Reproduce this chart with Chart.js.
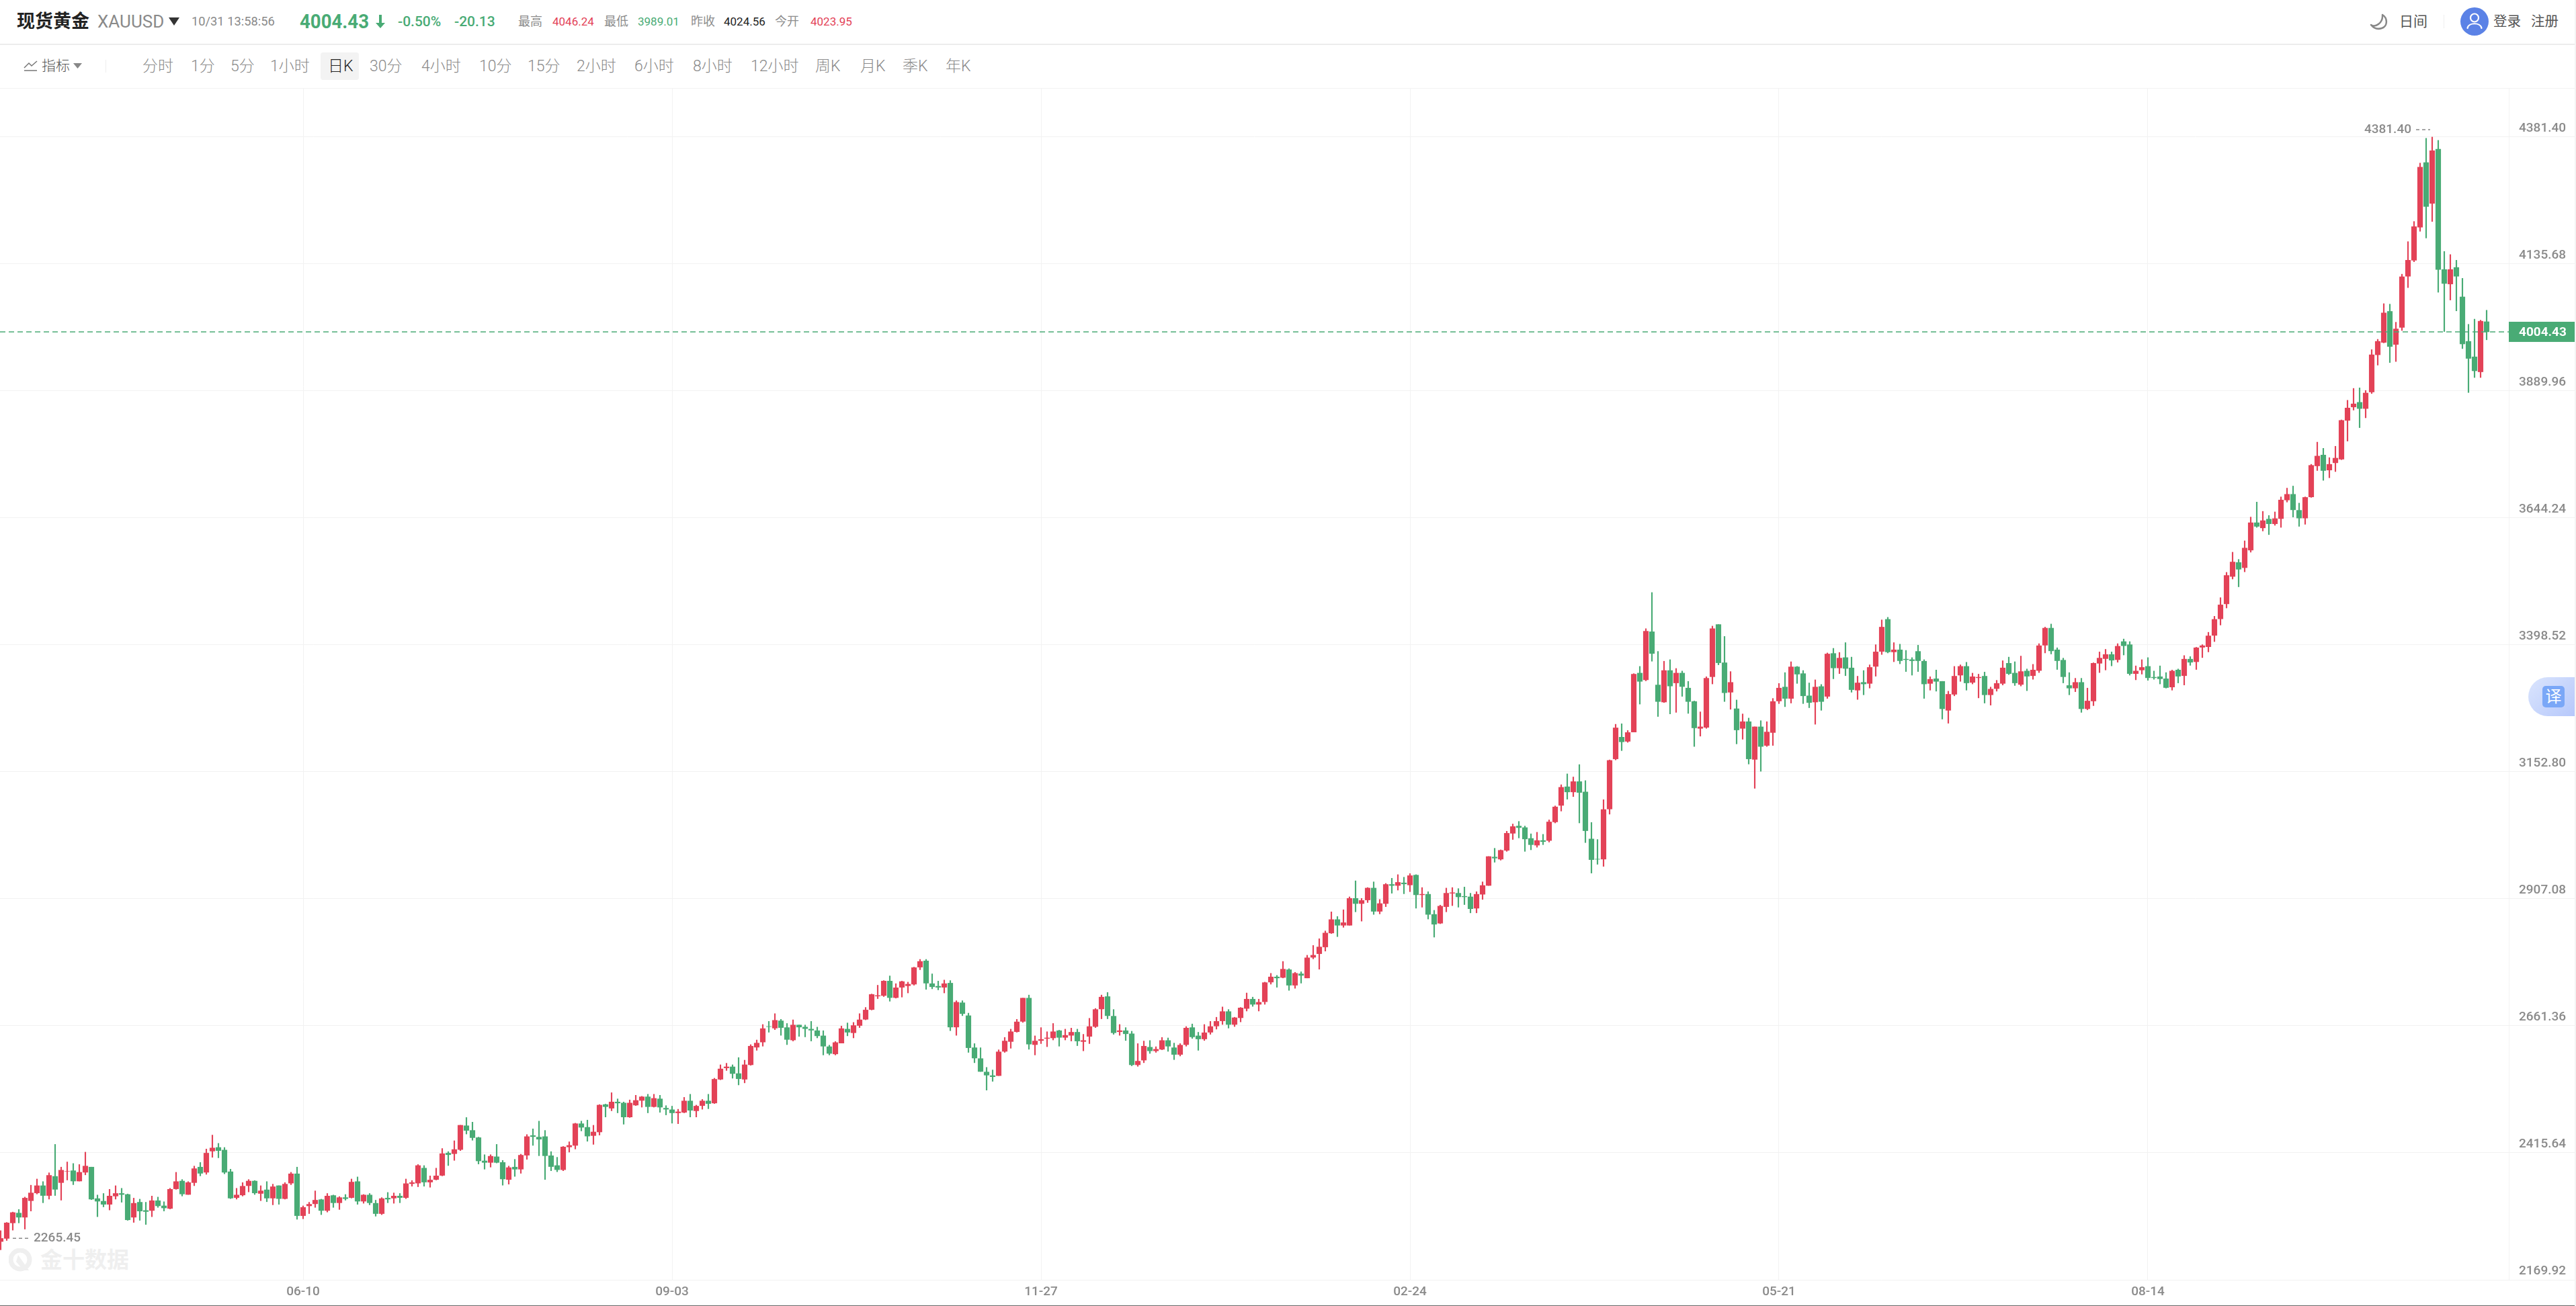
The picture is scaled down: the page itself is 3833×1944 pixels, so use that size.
<!DOCTYPE html>
<html>
<head>
<meta charset="utf-8">
<title>现货黄金 XAUUSD</title>
<script src="https://cdn.jsdelivr.net/npm/chart.js@4"></script>
<style>
  html, body { margin: 0; padding: 0; background: #fff; overflow: hidden; }
  body { width: 3833px; height: 1944px; position: relative; font-family: Roboto, "Noto Sans CJK SC", sans-serif; }
  .t { position: absolute; white-space: nowrap; line-height: 1; transform: translateY(-50%); }
  .bar { position: absolute; left: 0; width: 3831px; }
  .top { top: 32px; }
  .tool { top: 98px; font-size: 23px; color: #8a8a8a; font-weight: 300; }
  .stat { font-size: 17px; color: #8d8d8d; }
  .green { color: #49ab75; }
  .red { color: #e34257; }
  canvas { position: absolute; left: 0; top: 132px; z-index: 1; }
</style>
</head>
<body>
  <div class="t top" style="left:25px;font-size:27px;font-weight:700;color:#222">现货黄金</div>
  <div class="t top" style="left:145px;font-size:26px;color:#8a8a8a">XAUUSD</div>
  <svg style="position:absolute;left:251px;top:26px" width="16" height="12"><path d="M0 0H16L8 12Z" fill="#333"/></svg>
  <div class="t top" style="left:285px;font-size:18.3px;color:#8a8a8a">10/31 13:58:56</div>
  <div class="t top green" style="left:446px;font-size:30px;font-weight:700;transform-origin:left center;transform:translateY(-50%) scaleX(.92)">4004.43</div>
  <svg style="position:absolute;left:559px;top:22px" width="14" height="20"><path d="M5 0H9V12H14L7 20L0 12H5Z" fill="#49ab75"/></svg>
  <div class="t top green" style="left:592px;font-size:21px;font-weight:500">-0.50%</div>
  <div class="t top green" style="left:676px;font-size:21px;font-weight:500">-20.13</div>
  <div class="t top stat" style="left:771px;font-size:18px">最高</div>
  <div class="t top stat red" style="left:822px">4046.24</div>
  <div class="t top stat" style="left:899px;font-size:18px">最低</div>
  <div class="t top stat green" style="left:949px">3989.01</div>
  <div class="t top stat" style="left:1028px;font-size:18px">昨收</div>
  <div class="t top stat" style="left:1077px;color:#222">4024.56</div>
  <div class="t top stat" style="left:1153px;font-size:18px">今开</div>
  <div class="t top stat red" style="left:1206px">4023.95</div>

  <svg style="position:absolute;left:3526px;top:19px" width="27" height="26" viewBox="0 0 27 26"><path d="M2 18C8 22 20 16 19 3C27 8 27 20 18 23C12 25 6 23 2 18Z" fill="#fff" stroke="#888" stroke-width="2.5" stroke-linejoin="round"/></svg>
  <div class="t top" style="left:3570px;font-size:21px;color:#555">日间</div>
  <div style="position:absolute;left:3636px;top:22px;width:1px;height:20px;background:#eee"></div>
  <svg style="position:absolute;left:3661px;top:11px" width="42" height="42" viewBox="0 0 42 42"><circle cx="21" cy="21" r="21" fill="#5b82e6"/><circle cx="21" cy="15.5" r="6" fill="none" stroke="#fff" stroke-width="2.2"/><path d="M10.5 31C12 22 30 22 31.5 31" fill="none" stroke="#fff" stroke-width="2.2" stroke-linecap="round"/></svg>
  <div class="t top" style="left:3710px;font-size:20.5px;color:#555">登录</div>
  <div class="t top" style="left:3766px;font-size:20.5px;color:#555">注册</div>

  <div class="bar" style="top:65px;height:2px;background:#ececec"></div>

  <svg style="position:absolute;left:35px;top:90px" width="21" height="16"><path d="M1 11L8 4L12 8L20 1M1 15H20" fill="none" stroke="#777" stroke-width="1.5"/></svg>
  <div class="t tool" style="left:62px;font-size:21px;color:#555">指标</div>
  <svg style="position:absolute;left:109px;top:94px" width="13" height="8"><path d="M0 0H13L6.5 8Z" fill="#888"/></svg>
  <div style="position:absolute;left:157px;top:89px;width:1px;height:19px;background:#eee"></div>
  <div style="position:absolute;left:477px;top:78px;width:57px;height:41px;background:#f3f3f3;border-radius:4px"></div>
  <div class="t tool" style="left:212px">分时</div>
  <div class="t tool" style="left:284px">1分</div>
  <div class="t tool" style="left:343px">5分</div>
  <div class="t tool" style="left:402px">1小时</div>
  <div class="t tool" style="left:488px;color:#222">日K</div>
  <div class="t tool" style="left:550px">30分</div>
  <div class="t tool" style="left:627px">4小时</div>
  <div class="t tool" style="left:713px">10分</div>
  <div class="t tool" style="left:785px">15分</div>
  <div class="t tool" style="left:858px">2小时</div>
  <div class="t tool" style="left:944px">6小时</div>
  <div class="t tool" style="left:1031px">8小时</div>
  <div class="t tool" style="left:1117px">12小时</div>
  <div class="t tool" style="left:1213px">周K</div>
  <div class="t tool" style="left:1280px">月K</div>
  <div class="t tool" style="left:1343px">季K</div>
  <div class="t tool" style="left:1407px">年K</div>

  <div class="bar" style="top:131px;height:1px;background:#f2f2f2"></div>

  <svg style="position:absolute;left:13px;top:1858px" width="36" height="35" viewBox="0 0 36 35"><circle cx="17" cy="17" r="14" fill="none" stroke="#efefef" stroke-width="7"/><path d="M14 10L30 33H22L11 20Z" fill="#efefef"/></svg>
  <div class="t" style="left:60px;top:1875px;font-size:33px;font-weight:700;color:#efefef">金十数据</div>

  <canvas id="kline" width="3831" height="1811"></canvas>

  <div style="position:absolute;left:3762px;top:1008px;width:69px;height:58px;border-radius:29px 0 0 29px;background:linear-gradient(135deg,#dbe5fd,#b6c8fb);z-index:2"></div>
  <div class="t" style="left:3783px;top:1037px;width:33px;height:32px;line-height:32px;border-radius:5px;background:#7aa7f7;color:#fff;font-size:24px;text-align:center;z-index:3">译</div>

  <div style="position:absolute;left:3831px;top:0;width:2px;height:1944px;background:#f4f4f4;z-index:2"></div>
  <div style="position:absolute;left:0;top:1943px;width:3831px;height:1px;background:#666;z-index:2"></div>

<script>
const lastPrice = 4004.43;
const highText = '4381.40';
const lowText = '2265.45';
const priceTicks = [2169.92, 2415.64, 2661.36, 2907.08, 3152.80, 3398.52, 3644.24, 3889.96, 4135.68, 4381.40];
const dateLabels = ['06-10', '09-03', '11-27', '02-24', '05-21', '08-14'];
const dateIndexes = [50, 111, 172, 233, 294, 355];

// daily candles, oldest first
const opens = [
  2244,2250,2280,2299,2291,2323,2338,2352,2333,2370,
  2358,2380,2381,2361,2378,2388,2327,2322,2316,2332,
  2337,2335,2291,2320,2304,2304,2323,2313,2308,2346,
  2361,2335,2358,2388,2378,2419,2426,2421,2379,2329,
  2334,2352,2361,2337,2344,2328,2352,2327,2357,2375,
  2294,2313,2317,2325,2304,2333,2319,2329,2329,2360,
  2322,2334,2318,2298,2328,2328,2332,2329,2356,2357,
  2386,2359,2364,2372,2415,2414,2422,2468,2459,2445,
  2400,2397,2408,2397,2364,2388,2384,2411,2449,2446,
  2447,2410,2391,2383,2427,2430,2472,2465,2449,2456,
  2509,2502,2514,2512,2485,2508,2517,2524,2505,2520,
  2502,2499,2493,2494,2516,2497,2507,2516,2512,2558,
  2580,2582,2569,2558,2586,2620,2630,2660,2657,2671,
  2658,2634,2663,2659,2655,2652,2642,2621,2607,2628,
  2655,2648,2662,2674,2693,2719,2720,2748,2716,2736,
  2739,2742,2775,2787,2743,2738,2736,2744,2659,2706,
  2681,2619,2598,2572,2565,2565,2612,2631,2650,2670,
  2715,2625,2633,2637,2638,2652,2639,2643,2649,2631,
  2641,2660,2694,2718,2680,2650,2652,2646,2586,2595,
  2620,2613,2616,2633,2619,2606,2625,2658,2642,2636,
  2649,2661,2671,2689,2664,2677,2695,2713,2703,2708,
  2746,2756,2755,2770,2740,2762,2754,2794,2801,2814,
  2841,2867,2856,2856,2908,2898,2905,2928,2883,2898,
  2935,2933,2938,2934,2953,2915,2916,2877,2860,2892,
  2918,2918,2912,2911,2889,2916,2933,2988,2984,3001,
  3034,3048,3045,3024,3011,3020,3020,3056,3088,3124,
  3114,3134,3114,3023,2984,2984,3081,3178,3220,3212,
  3230,3344,3331,3424,3321,3288,3349,3325,3344,3315,
  3289,3237,3239,3337,3438,3364,3307,3275,3237,3250,
  3177,3240,3204,3229,3290,3317,3295,3356,3343,3300,
  3288,3318,3299,3382,3354,3374,3354,3311,3326,3324,
  3357,3386,3448,3385,3389,3371,3370,3386,3367,3324,
  3333,3328,3272,3303,3340,3357,3326,3335,3338,3302,
  3314,3324,3363,3344,3322,3348,3339,3349,3398,3431,
  3389,3369,3320,3315,3326,3275,3290,3363,3372,3380,
  3370,3405,3399,3343,3350,3357,3336,3337,3333,3317,
  3350,3339,3371,3366,3394,3395,3417,3449,3478,3531,
  3558,3548,3582,3635,3625,3642,3633,3643,3679,3690,
  3659,3644,3685,3745,3766,3737,3751,3758,3833,3859,
  3868,3856,3888,3960,3984,4044,3980,4013,4112,4143,
  4207,4332,4253,4358,4125,4097,4129,4072,3986,3956,
  3927,4023.95
];
const closes = [
  2250,2280,2300,2291,2328,2338,2352,2333,2372,2345,
  2382,2380,2361,2378,2390,2326,2322,2316,2332,2337,
  2335,2286,2318,2303,2302,2323,2313,2309,2345,2360,
  2336,2358,2385,2376,2415,2425,2420,2378,2328,2334,
  2351,2361,2338,2342,2328,2350,2327,2355,2375,2294,
  2310,2316,2324,2304,2332,2319,2329,2327,2359,2322,
  2334,2319,2298,2327,2326,2332,2329,2356,2358,2391,
  2359,2363,2371,2414,2412,2422,2469,2459,2445,2400,
  2397,2409,2397,2365,2387,2384,2411,2447,2447,2442,
  2410,2389,2383,2427,2430,2472,2465,2448,2456,2508,
  2505,2514,2512,2485,2512,2517,2524,2505,2521,2504,
  2500,2493,2495,2516,2498,2506,2516,2511,2558,2578,
  2582,2569,2559,2586,2622,2628,2656,2659.8,2672,2658,
  2635,2663,2659,2656,2653,2642,2622,2608,2629,2656,
  2649,2662,2673,2692,2722,2720,2748,2716,2735,2747,
  2742,2774,2786,2744,2737,2736,2743,2659,2707,2685,
  2619,2599,2573,2566,2563,2611,2632,2650,2669,2715,
  2626,2632,2635,2638,2650,2639,2643,2649,2632,2633,
  2660,2693,2717,2681,2648,2652,2646,2586,2593,2622,
  2613,2616,2633,2622,2606,2624,2657,2640,2636,2648,
  2660,2670,2689,2664,2677,2696,2713,2703,2707,2745,
  2756,2754,2771,2740,2763,2759,2793,2798,2814,2841,
  2867,2856,2861,2908,2898,2904,2928,2883,2898,2935,
  2933,2939,2936,2952,2915,2916,2877,2858,2893,2918,
  2919,2911,2911,2888,2916,2933,2989,2986,3001,3034,
  3047,3045,3023,3012,3020,3018,3056,3085,3123,3114,
  3134,3113,3039,2983,2983.8,3080,3175,3238,3211,3229,
  3342,3328,3425,3382,3289,3349,3319,3344,3318,3289,
  3238,3240,3334,3430,3364,3306,3326,3234,3250,3178,
  3240,3202,3230,3289,3315,3295,3356,3342,3300,3287,
  3317,3289,3381,3354,3373,3353,3312,3325,3323,3355,
  3385,3433,3385,3389,3368,3370,3368,3368,3323,3332,
  3328,3275,3303,3338,3357,3325,3337,3336,3302,3313,
  3324,3354,3343,3325,3347,3338,3350,3397,3431,3387,
  3368,3337,3315,3326,3275,3290,3363,3373,3380,3369,
  3396,3397,3343,3348,3355,3335,3335,3333,3316,3348,
  3338,3371,3365,3393,3397,3416,3448,3476,3533,3559,
  3545,3586,3635,3628,3639,3633,3643,3679,3690,3660,
  3644,3684,3746,3764,3736,3748,3760,3833,3857,3865,
  3856,3886,3960,3986,4041,3976,4010,4111,4143,4208,
  4323,4247,4355,4125,4098,4125,4112,3981,3953,3929,
  4025,4004.43
];
const highs = [
  2265,2281,2301,2306,2330,2353,2365,2360,2377,2432,
  2388,2398,2395,2393,2417,2388,2334,2337,2345,2352,
  2347,2336,2328,2326,2320,2332,2330,2321,2347,2378,
  2364,2360,2390,2397,2423,2450,2434,2426,2384,2347,
  2358,2364,2362,2352,2360,2355,2352,2358,2378,2388,
  2313,2320,2342,2326,2337,2334,2331,2335,2365,2369,
  2335,2337,2324,2329,2339,2338,2337,2365,2362,2393,
  2391,2371,2386,2424,2418,2439,2469,2484,2475,2446,
  2412,2412,2432,2401,2390,2403,2413,2451,2462,2477,
  2459,2418,2407,2428,2437,2473,2477,2479,2469,2509,
  2510,2532,2520,2514,2518,2527,2525,2529,2529,2527,
  2507,2506,2500,2523,2529,2508,2519,2529,2560,2586,
  2589,2586,2600,2595,2625,2634,2664,2670,2685,2674,
  2666,2673,2663,2663,2670,2659,2652,2624,2631,2661,
  2667,2668,2685,2697,2723,2740,2749,2758,2743,2748,
  2746,2775,2790,2790,2762,2748,2750,2749,2710,2710,
  2686,2627,2619,2581,2576,2615,2639,2655,2674,2715,
  2721,2642,2658,2650,2666,2653,2655,2657,2655,2645,
  2676,2695,2721,2726,2693,2664,2658,2651,2627,2632,
  2633,2621,2639,2638,2628,2627,2660,2665,2649,2664,
  2670,2678,2698,2693,2678,2697,2725,2717,2713,2746,
  2763,2759,2786,2772,2765,2766,2798,2817,2830,2845,
  2882,2873,2886,2911,2942,2908,2929,2940,2906,2937,
  2947,2954,2949,2956,2954,2929,2921,2885,2895,2928,
  2929,2927,2930,2918,2921,2940,2989,3005,3002,3038,
  3052,3057,3048,3033,3036,3032,3060,3087,3128,3149,
  3143,3167,3136,3055,3022,3099,3176,3245,3246,3233,
  3343,3357,3430,3500,3386,3367,3370,3353,3348,3328,
  3290,3269,3337,3435,3438,3415,3347,3292,3265,3257,
  3240,3252,3250,3295,3324,3345,3366,3357,3349,3325,
  3331,3322,3383,3392,3384,3403,3375,3338,3349,3360,
  3399,3447,3452,3403,3400,3388,3374,3398,3370,3337,
  3350,3328,3309,3357,3360,3365,3344,3342,3346,3317,
  3330,3368,3375,3366,3377,3352,3361,3401,3433,3439,
  3393,3373,3345,3334,3334,3315,3364,3385,3390,3385,
  3401,3410,3405,3358,3370,3374,3348,3358,3345,3350,
  3352,3378,3376,3394,3399,3423,3454,3490,3539,3578,
  3564,3600,3646,3675,3657,3649,3656,3685,3702,3706,
  3673,3685,3748,3791,3779,3761,3783,3834,3872,3895,
  3896,3891,3970,3990,4059,4058,4023,4116,4179,4218,
  4331,4379,4381.4,4375,4160,4154,4143,4108,4019,4029,
  4027,4046.24
];
const lows = [
  2228,2246,2266,2280,2268,2303,2336,2319,2326,2333,
  2324,2363,2354,2361,2373,2325,2292,2311,2305,2326,
  2320,2285,2281,2285,2277,2292,2310,2303,2307,2345,
  2332,2335,2352,2371,2374,2407,2406,2375,2327,2326,
  2332,2340,2335,2323,2321,2315,2316,2326,2354,2287,
  2288,2298,2310,2296,2301,2310,2306,2324,2328,2316,
  2318,2315,2293,2296,2319,2318,2319,2327,2351,2350,
  2351,2349,2363,2371,2391,2401,2420,2452,2440,2394,
  2384,2388,2396,2353,2355,2370,2376,2403,2430,2410,
  2364,2381,2379,2381,2417,2423,2458,2438,2432,2450,
  2485,2497,2493,2471,2484,2507,2504,2493,2504,2494,
  2489,2473,2472,2493,2485,2485,2500,2501,2511,2557,
  2575,2560,2547,2551,2585,2614,2622,2649,2654,2643,
  2625,2632,2641,2640,2632,2638,2605,2605,2605,2628,
  2642,2638,2658,2673,2692,2714,2718,2709,2715,2717,
  2725,2740,2770,2732,2733,2731,2725,2652,2643,2681,
  2610,2590,2573,2537,2554,2565,2610,2618,2649,2668,
  2616,2605,2627,2621,2634,2622,2634,2632,2623,2613,
  2627,2658,2675,2675,2645,2643,2633,2584,2583,2590,
  2608,2610,2615,2612,2596,2603,2622,2637,2614,2633,
  2645,2655,2664,2657,2660,2669,2690,2699,2690,2703,
  2742,2736,2754,2730,2734,2744,2754,2791,2771,2806,
  2840,2834,2852,2856,2882,2864,2900,2877,2878,2892,
  2918,2924,2917,2921,2889,2891,2868,2833,2859,2882,
  2894,2891,2896,2880,2880,2906,2933,2978,2982,2999,
  3022,3025,2999,3002,3007,3012,3017,3054,3077,3100,
  3105,3054,3016,2957,2974,2970,3071,3176,3194,3210,
  3230,3284,3329,3367,3260,3287,3265,3268,3299,3266,
  3202,3222,3237,3323,3360,3289,3274,3207,3216,3168,
  3121,3154,3202,3204,3285,3279,3286,3324,3285,3277,
  3245,3272,3295,3333,3343,3339,3307,3293,3302,3315,
  3338,3380,3383,3366,3362,3347,3340,3347,3295,3311,
  3309,3255,3247,3300,3328,3311,3323,3296,3286,3282,
  3309,3321,3341,3320,3319,3310,3332,3345,3383,3381,
  3351,3325,3302,3308,3268,3273,3281,3345,3350,3358,
  3365,3379,3340,3331,3342,3330,3332,3323,3315,3311,
  3325,3321,3359,3351,3374,3385,3405,3437,3470,3526,
  3511,3540,3578,3626,3619,3612,3630,3626,3675,3646,
  3628,3632,3684,3736,3717,3722,3734,3757,3793,3853,
  3819,3838,3885,3940,3983,3945,3947,4007,4090,4140,
  4199,4186,4218,4081,4005,4066,4045,3972,3887,3916,
  3916,3989.01
];

const RED = '#e34257';
const GREEN = '#49ab75';
const GRID = '#f2f2f2';
const TICK_TEXT = '#8a8a8a';

const colors = opens.map((o, i) => closes[i] >= o ? RED : GREEN);

// dashed last price line, its badge, and the high / low notes
const overlays = {
  id: 'overlays',
  afterDatasetsDraw(chart) {
    const { ctx, chartArea, scales: { x, y } } = chart;
    const py = y.getPixelForValue(lastPrice);
    ctx.save();
    ctx.strokeStyle = GREEN;
    ctx.lineWidth = 1.5;
    ctx.setLineDash([8, 5]);
    ctx.beginPath();
    ctx.moveTo(chartArea.left, py);
    ctx.lineTo(chartArea.right, py);
    ctx.stroke();

    ctx.setLineDash([]);
    ctx.fillStyle = GREEN;
    ctx.fillRect(chartArea.right, py - 15, chart.width - chartArea.right, 30);
    ctx.fillStyle = '#fff';
    ctx.font = '700 19px Roboto';
    ctx.textAlign = 'left';
    ctx.textBaseline = 'middle';
    ctx.fillText(lastPrice.toFixed(2), chartArea.right + 15, py + 1);

    const hi = highs.indexOf(Math.max(...highs));
    const hx = x.getPixelForValue(hi);
    const hy = y.getPixelForValue(highs[hi]) - 11;
    const lx = x.getPixelForValue(0);
    const ly = y.getPixelForValue(lows[0]) - 17;
    ctx.font = '500 19px Roboto';
    ctx.fillStyle = TICK_TEXT;
    ctx.textAlign = 'right';
    ctx.fillText(highText, hx - 31, hy);
    ctx.textAlign = 'left';
    ctx.fillText(lowText, lx + 49, ly);
    ctx.strokeStyle = '#888';
    ctx.lineWidth = 1.5;
    ctx.setLineDash([5, 4]);
    ctx.beginPath();
    ctx.moveTo(hx - 24, hy);
    ctx.lineTo(hx - 3, hy);
    ctx.moveTo(lx + 18, ly);
    ctx.lineTo(lx + 45, ly);
    ctx.stroke();
    ctx.restore();
  }
};

new Chart(document.getElementById('kline'), {
  type: 'bar',
  plugins: [overlays],
  data: {
    datasets: [
      {
        label: 'body',
        data: opens.map((o, i) => ({ x: i, y: [o, closes[i]] })),
        backgroundColor: colors,
        barThickness: 7.5,
        grouped: false
      },
      {
        label: 'wick',
        data: lows.map((l, i) => ({ x: i, y: [l, highs[i]] })),
        backgroundColor: colors,
        barThickness: 1.5,
        grouped: false
      }
    ]
  },
  options: {
    responsive: false,
    devicePixelRatio: 1,
    animation: false,
    events: [],
    layout: { padding: 0 },
    plugins: { legend: { display: false }, tooltip: { enabled: false } },
    scales: {
      x: {
        type: 'linear',
        offset: false,
        min: -1 / 9,
        max: 3732 / 9,
        afterBuildTicks(scale) {
          scale.ticks = dateIndexes.map(value => ({ value }));
        },
        afterFit(scale) { scale.height = 38; },
        grid: { color: GRID, offset: false, drawTicks: false },
        border: { display: false },
        ticks: {
          autoSkip: false,
          maxRotation: 0,
          padding: 7,
          color: TICK_TEXT,
          font: { family: 'Roboto', size: 19, weight: '500' },
          callback: value => dateLabels[dateIndexes.indexOf(value)]
        }
      },
      y: {
        position: 'right',
        min: 2169.92,
        max: 4475,
        afterBuildTicks(scale) {
          scale.ticks = priceTicks.map(value => ({ value }));
        },
        afterFit(scale) { scale.width = 98; },
        grid: { color: GRID, tickColor: GRID, tickLength: 98 },
        border: { color: GRID },
        ticks: {
          crossAlign: 'near',
          padding: -83,
          labelOffset: -13,
          autoSkip: false,
          color: TICK_TEXT,
          font: { family: 'Roboto', size: 19, weight: '500' },
          callback: value => value.toFixed(2)
        }
      }
    }
  }
});
</script>
</body>
</html>
